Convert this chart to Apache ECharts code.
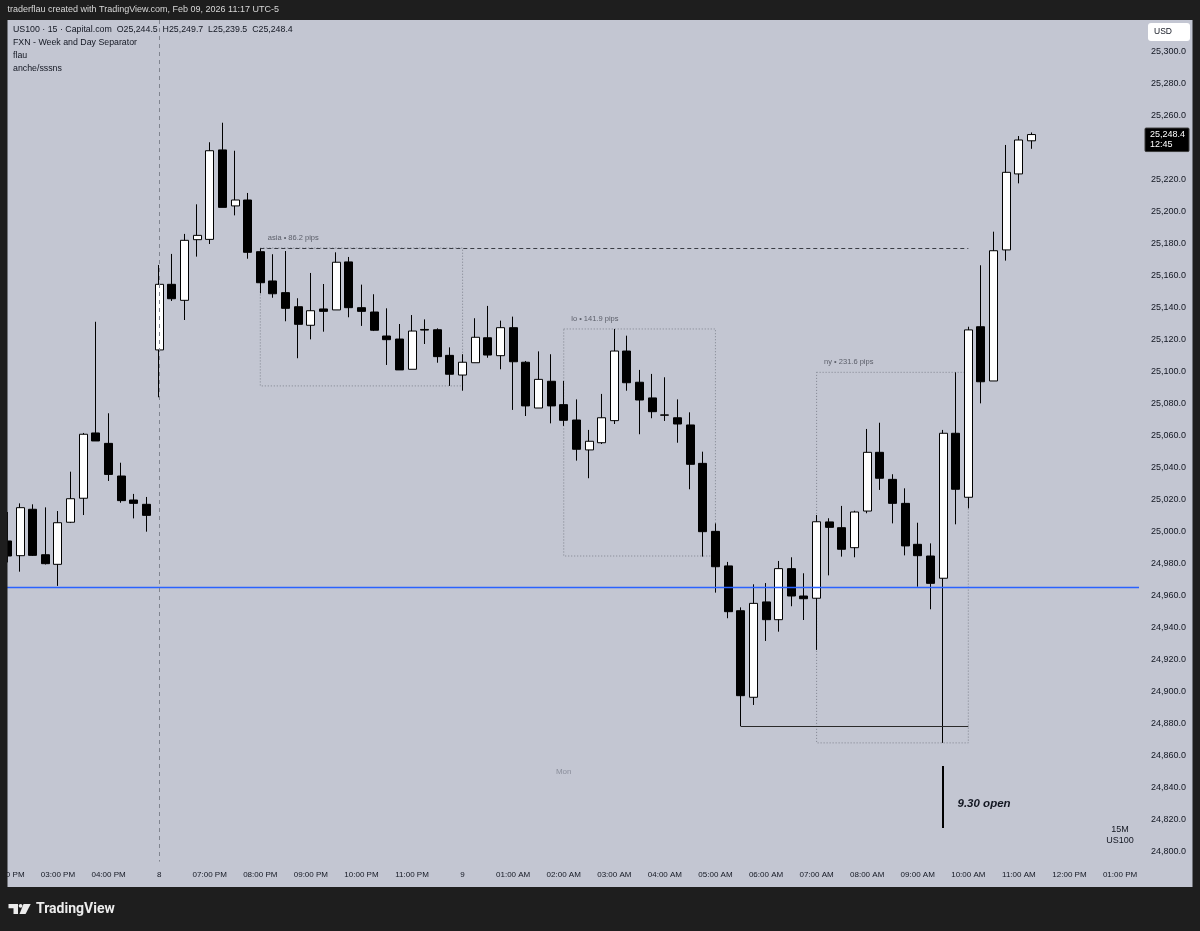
<!DOCTYPE html>
<html>
<head>
<meta charset="utf-8">
<title>US100 15m</title>
<script src="https://cdn.jsdelivr.net/npm/echarts@6.0.0/dist/echarts.min.js"></script>
<style>
  html, body { margin: 0; padding: 0; background: #1e1e1e; }
  #chart { width: 1200px; height: 931px; }
</style>
</head>
<body>
<div id="chart"></div>
<script>
// candles (15m), friday afternoon then sunday open -> monday
const opens = [
  24994.4, 24985.2, 25014.2, 24985.8, 24979.8, 25006.1, 25021.1, 25061.9, 25055.4, 25035.0, 25020.0, 25017.3,
  25113.8, 25154.8, 25144.8, 25182.7, 25182.9, 25238.8, 25203.8, 25207.5, 25175.2, 25156.9, 25149.6, 25140.8,
  25129.2, 25139.4, 25138.8, 25168.8, 25140.2, 25137.5, 25122.5, 25120.6, 25101.7, 25126.6, 25126.4, 25110.4,
  25098.1, 25105.8, 25121.4, 25110.2, 25127.7, 25106.1, 25077.5, 25094.2, 25079.6, 25070.0, 25051.3, 25055.8,
  25069.6, 25113.1, 25093.6, 25083.8, 25073.2, 25071.4, 25066.9, 25042.9, 25000.4, 24978.8, 24950.8, 24896.7,
  24956.3, 24945.2, 24977.1, 24960.0, 24958.6, 25006.3, 25002.7, 24990.2, 25013.1, 25049.8, 25032.9, 25017.9,
  24992.3, 24985.0, 24971.1, 25061.7, 25021.7, 25128.3, 25094.4, 25176.3, 25223.8, 25244.5
];
const closes = [
  24985.0, 25015.2, 24985.4, 24980.2, 25005.8, 25020.8, 25061.1, 25056.9, 25036.0, 25019.6, 25017.9, 25010.4,
  25154.8, 25145.8, 25182.3, 25185.4, 25238.3, 25202.9, 25207.5, 25174.8, 25155.8, 25148.9, 25139.8, 25129.8,
  25138.3, 25137.9, 25168.6, 25140.2, 25137.9, 25126.1, 25120.2, 25101.3, 25125.6, 25126.2, 25109.6, 25098.6,
  25106.1, 25121.7, 25110.6, 25127.7, 25106.4, 25078.8, 25095.4, 25078.8, 25069.8, 25051.7, 25056.7, 25071.4,
  25113.1, 25093.3, 25082.5, 25075.2, 25073.0, 25067.5, 25042.3, 25000.2, 24978.3, 24950.2, 24897.7, 24955.4,
  24945.2, 24977.1, 24960.0, 24958.3, 25006.4, 25002.9, 24989.2, 25012.5, 25049.8, 25033.6, 25017.9, 24991.3,
  24985.2, 24967.9, 25061.7, 25026.7, 25126.3, 25093.9, 25175.8, 25224.8, 25245.0, 25248.4
];
const lows = [
  24981.0, 24975.2, 24985.0, 24979.7, 24966.3, 25005.6, 25010.6, 25056.9, 25031.9, 25018.3, 25008.5, 25000.2,
  25084.2, 25144.4, 25132.5, 25172.1, 25180.0, 25202.9, 25197.9, 25170.8, 25149.2, 25146.4, 25131.7, 25108.6,
  25120.4, 25125.2, 25138.8, 25134.2, 25128.8, 25125.6, 25104.4, 25101.3, 25101.7, 25117.5, 25105.8, 25091.3,
  25088.3, 25105.8, 25108.9, 25101.7, 25076.3, 25072.5, 25077.5, 25067.9, 25066.3, 25044.6, 25033.6, 25055.0,
  25067.5, 25088.3, 25061.1, 25071.1, 25069.4, 25055.8, 25026.7, 24984.6, 24962.1, 24946.1, 24878.6, 24891.9,
  24931.9, 24937.7, 24953.6, 24945.0, 24926.3, 24972.9, 24984.6, 24984.2, 25011.7, 25026.3, 25005.4, 24985.4,
  24965.8, 24951.7, 24868.2, 25004.8, 25014.8, 25080.4, 25094.4, 25169.6, 25217.9, 25239.5
];
const highs = [
  25012.5, 25017.9, 25017.3, 25015.4, 25013.1, 25037.7, 25061.9, 25131.4, 25074.2, 25043.3, 25023.8, 25021.9,
  25166.9, 25173.8, 25186.3, 25204.8, 25243.6, 25255.8, 25238.3, 25211.9, 25177.5, 25173.6, 25175.6, 25146.1,
  25161.9, 25155.0, 25174.8, 25171.9, 25154.6, 25148.6, 25139.8, 25130.0, 25135.6, 25132.9, 25127.3, 25115.4,
  25111.1, 25133.6, 25141.3, 25132.1, 25134.6, 25106.9, 25112.9, 25111.1, 25094.4, 25082.9, 25063.8, 25086.3,
  25126.9, 25122.7, 25101.3, 25098.8, 25096.7, 25082.9, 25074.8, 25050.2, 25005.4, 24981.3, 24952.9, 24967.3,
  24968.1, 24981.9, 24984.2, 24974.2, 25010.6, 25008.6, 25016.3, 25013.3, 25064.4, 25068.3, 25036.1, 25027.3,
  25005.8, 24992.9, 25063.8, 25099.8, 25128.3, 25166.7, 25187.7, 25241.9, 25247.5, 25249.7
];

// time slots: [y, m, d, h, min, count] (sunday session includes empty future slots)
const sessionStarts = [[2026, 1, 6, 14, 0, 12], [2026, 1, 8, 18, 0, 78]];

// session boxes
const boxNames = ['asia', 'lo', 'ny'];
const boxPips = ['86.2', '141.9', '231.6'];
const boxStart = [20, 44, 64];
const boxEnd = [36, 56, 76];
const boxHigh = [25177.5, 25126.9, 25099.8];
const boxLow = [25091.3, 24985.0, 24868.2];

// drawn levels
const blueLevel = 24965.6;
const separatorIdx = 12;
const asiaLineEnd = 76;
const lowLineIdx = [58, 76];
const lowLineLevel = 24878.6;
const openMarkIdx = 74;
const openMarkRange = [24853.8, 24815.0];
const openTextLevel = 24830;
const monIdx = 44;
const monLevel = 24850;

const times = [];
sessionStarts.forEach(s => {
  const t0 = Date.UTC(s[0], s[1], s[2], s[3], s[4]);
  for (let k = 0; k < s[5]; k++) {
    times.push(new Date(t0 + k * 900000).toISOString().slice(0, 16).replace('T', ' '));
  }
});

function timeLabel (v) {
  const day = +v.slice(8, 10);
  const hh = +v.slice(11, 13);
  if (hh === 0 || (day === 8 && hh === 18)) return String(day);
  const h12 = hh % 12 || 12;
  return (h12 < 10 ? '0' : '') + h12 + ':00 ' + (hh < 12 ? 'AM' : 'PM');
}

function fmt (v) {
  const p = v.toFixed(1).split('.');
  return p[0].replace(/\B(?=(\d{3})+(?!\d))/g, ',') + '.' + p[1];
}

const candleData = opens.map((o, i) => [o, closes[i], lows[i], highs[i]]);
const last = candleData.length - 1;

const FONT = '"Liberation Sans", Arial, sans-serif';
const TXT = '#131722';

const chart = echarts.init(document.getElementById('chart'));

const option = {
  animation: false,
  backgroundColor: '#c3c6d2',
  grid: { left: 1.1, right: 61, top: 20, bottom: 47, outerBoundsMode: 'none' },
  xAxis: {
    type: 'category',
    data: times,
    offset: -22,
    axisLine: { show: false },
    axisTick: { show: false },
    splitLine: { show: false },
    axisLabel: {
      interval: (idx, v) => v.slice(14, 16) === '00',
      formatter: timeLabel,
      margin: 9,
      fontSize: 8,
      fontFamily: FONT,
      color: TXT
    }
  },
  yAxis: {
    type: 'value',
    position: 'right',
    min: 24780,
    max: 25320,
    interval: 20,
    axisLine: { show: false },
    axisTick: { show: false },
    splitLine: { show: false },
    axisLabel: {
      margin: 12,
      fontSize: 9,
      fontFamily: FONT,
      color: TXT,
      formatter: v => (v < 24800 || v > 25300) ? '' : fmt(v)
    }
  },
  series: [{
    type: 'candlestick',
    data: candleData,
    barWidth: 8.5,
    itemStyle: {
      color: '#ffffff',
      color0: '#000000',
      borderColor: '#000000',
      borderColor0: '#000000',
      borderColorDoji: '#000000',
      borderWidth: 1
    },
    markArea: {
      silent: true,
      itemStyle: { color: 'rgba(0,0,0,0)', borderColor: '#7f838e', borderWidth: 1, borderType: [1, 2] },
      label: {
        show: true,
        position: [8, -10],
        verticalAlign: 'middle',
        fontSize: 7.5,
        fontFamily: FONT,
        color: '#5d606b'
      },
      data: boxNames.map((n, k) => [
        { name: n + ' \u2022 ' + boxPips[k] + ' pips', xAxis: boxStart[k], yAxis: boxHigh[k] },
        { xAxis: boxEnd[k], yAxis: boxLow[k] }
      ])
    },
    markLine: {
      silent: true,
      symbol: ['none', 'none'],
      label: { show: false },
      data: [
        { yAxis: blueLevel, lineStyle: { color: '#2962ff', width: 1.3, type: 'solid' } },
        [{ coord: [separatorIdx, 25320], lineStyle: { color: '#80848f', width: 1, type: [4, 4] } },
          { coord: [separatorIdx, 24794] }],
        [{ coord: [boxStart[0], boxHigh[0]], lineStyle: { color: '#3a3d45', width: 1, type: [4, 3] } },
          { coord: [asiaLineEnd, boxHigh[0]] }],
        [{ coord: [lowLineIdx[0], lowLineLevel], lineStyle: { color: '#2a2a2a', width: 1, type: 'solid' } },
          { coord: [lowLineIdx[1], lowLineLevel] }],
        [{ coord: [openMarkIdx, openMarkRange[0]], lineStyle: { color: '#000000', width: 2, type: 'solid' } },
          { coord: [openMarkIdx, openMarkRange[1]] }]
      ]
    },
    markPoint: {
      silent: true,
      symbol: 'circle',
      symbolSize: 1,
      itemStyle: { color: 'rgba(0,0,0,0)' },
      data: [
        {
          coord: [openMarkIdx, openTextLevel],
          label: {
            show: true, position: 'right', distance: 14, formatter: '9.30 open',
            fontSize: 11.5, fontStyle: 'italic', fontWeight: 'bold', fontFamily: FONT, color: TXT
          }
        },
        {
          coord: [monIdx, monLevel],
          label: { show: true, position: 'inside', formatter: 'Mon', fontSize: 8, fontFamily: FONT, color: '#8a8e9b' }
        }
      ]
    }
  }]
};

chart.setOption(option);

// overlays: frame, header, legend, price tag
const priceY = chart.convertToPixel({ yAxisIndex: 0 }, closes[last]);
const dark = '#1e1e1e';
const txt = (text, x, y, size, fill, extra) => Object.assign({
  type: 'text', z: 120,
  style: { text, x, y, fill, font: size + 'px ' + FONT, textVerticalAlign: 'middle', verticalAlign: 'middle' }
}, extra || {});

const graphics = [
  { type: 'rect', z: 110, shape: { x: 0, y: 0, width: 1200, height: 20 }, style: { fill: dark } },
  { type: 'rect', z: 110, shape: { x: 0, y: 0, width: 7.5, height: 931 }, style: { fill: dark } },
  { type: 'rect', z: 110, shape: { x: 1192.5, y: 0, width: 8, height: 931 }, style: { fill: dark } },
  { type: 'rect', z: 110, shape: { x: 0, y: 887, width: 1200, height: 44 }, style: { fill: dark } },
  txt('traderflau created with TradingView.com, Feb 09, 2026 11:17 UTC-5', 7.5, 10, 9, '#d8d8d8'),
  txt('US100 \u00b7 15 \u00b7 Capital.com  O' + fmt(opens[last]) + '  H' + fmt(highs[last]) +
    '  L' + fmt(lows[last]) + '  C' + fmt(closes[last]), 13, 30, 8.8, TXT),
  txt('FXN - Week and Day Separator', 13, 43, 8.8, TXT),
  txt('flau', 13, 56, 8.8, TXT),
  txt('anche/sssns', 13, 69, 8.8, TXT),
  { type: 'rect', z: 115, shape: { x: 1148, y: 23, width: 42, height: 18, r: 3 }, style: { fill: '#ffffff' } },
  txt('USD', 1154, 32, 8.5, TXT),
  { type: 'text', z: 120, style: { text: '15M', x: 1120, y: 830, fill: TXT, font: '9px ' + FONT, textAlign: 'center', align: 'center', textVerticalAlign: 'middle', verticalAlign: 'middle' } },
  { type: 'text', z: 120, style: { text: 'US100', x: 1120, y: 841, fill: TXT, font: '9px ' + FONT, textAlign: 'center', align: 'center', textVerticalAlign: 'middle', verticalAlign: 'middle' } },
  { type: 'rect', z: 115, shape: { x: 1145, y: priceY - 6.5, width: 44, height: 23.5, r: 1 }, style: { fill: '#000000', stroke: '#3a3a3a', lineWidth: 1 } },
  txt(fmt(closes[last]), 1150, priceY, 9, '#ffffff', { z: 121 }),
  txt('12:45', 1150, priceY + 9.5, 9, '#ffffff', { z: 121 }),
  // TradingView wordmark
  { type: 'polygon', z: 120, shape: { points: [[8.5, 904], [18, 904], [18, 914], [13.5, 914], [13.5, 908.3], [8.5, 908.3]] }, style: { fill: '#ececec' } },
  { type: 'circle', z: 120, shape: { cx: 20.6, cy: 905.8, r: 1.9 }, style: { fill: '#ececec' } },
  { type: 'polygon', z: 120, shape: { points: [[23.5, 904], [30.7, 904], [25.6, 914], [19.5, 914]] }, style: { fill: '#ececec' } },
  txt('TradingView', 36, 909.5, 14, '#ececec', { style: { text: 'TradingView', x: 36, y: 909.5, fill: '#ececec', font: 'bold 14px Roboto, ' + FONT, textVerticalAlign: 'middle', verticalAlign: 'middle' } })
];

chart.setOption({ graphic: graphics });
</script>
</body>
</html>
